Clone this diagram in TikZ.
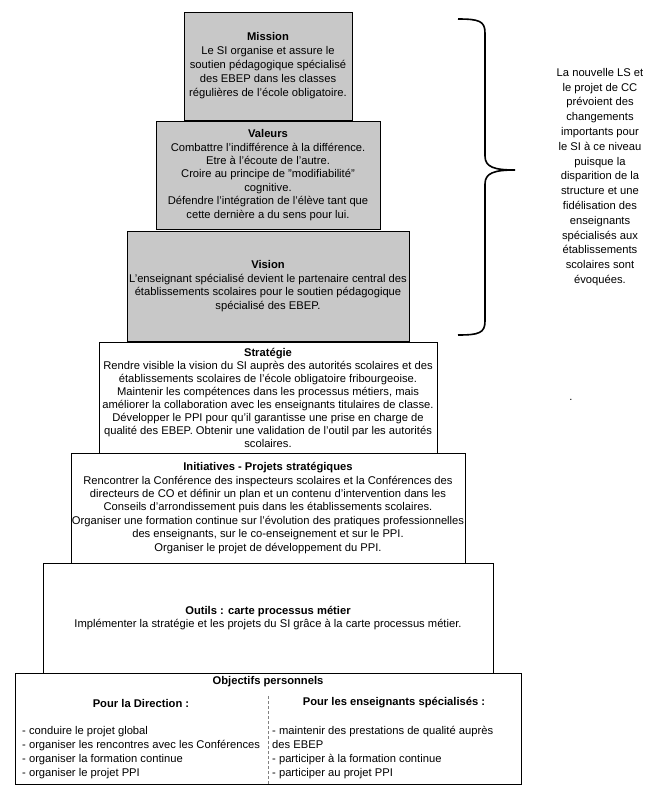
\documentclass[tikz,border=0pt]{standalone}
\usepackage{fontspec}
\setmainfont{Liberation Sans}
\usepackage{xcolor}
\usepackage{tikz}
\usetikzlibrary{positioning,calc}
\definecolor{levelgrey}{RGB}{200,200,200}

\begin{document}
\begin{tikzpicture}[x=1pt, y=-1pt,
	level/.style={draw, line width=0.8pt, align=center, inner sep=0pt, font=\fontsize{11.2}{13.4}\selectfont},
	greylevel/.style={level, fill=levelgrey},
	plain/.style={inner sep=0pt, font=\fontsize{11.2}{14}\selectfont}]
	\useasboundingbox (0,0) rectangle (662,807);
	% pyramide
	\node[greylevel, minimum width=168pt, minimum height=108pt, font=\fontsize{11.2}{14}\selectfont] (mission) at (268,66) {\textbf{Mission}\\Le SI organise et assure le\\soutien pédagogique spécialisé\\des EBEP dans les classes\\régulières de l'école obligatoire.};
	\node[greylevel, minimum width=224pt, minimum height=108pt] (valeurs) at (268,175) {\textbf{Valeurs}\\Combattre l'indifférence à la différence.\\Etre à l'écoute de l'autre.\\Croire au principe de "modifiabilité"\\cognitive.\\Défendre l'intégration de l'élève tant que\\cette dernière a du sens pour lui.};
	\node[greylevel, minimum width=282pt, minimum height=110pt] (vision) at (268,286) {\textbf{Vision}\\L'enseignant spécialisé devient le partenaire central des\\établissements scolaires pour le soutien pédagogique\\spécialisé des EBEP.};
	\node[level, minimum width=338pt, minimum height=111pt, font=\fontsize{11.2}{13}\selectfont] (strategie) at (268,397.5) {\textbf{Stratégie}\\Rendre visible la vision du SI auprès des autorités scolaires et des\\établissements scolaires de l'école obligatoire fribourgeoise.\\Maintenir les compétences dans les processus métiers, mais\\améliorer la collaboration avec les enseignants titulaires de classe.\\Développer le PPI pour qu'il garantisse une prise en charge de\\qualité des EBEP. Obtenir une validation de l'outil par les autorités\\scolaires.};
	\node[level, minimum width=394pt, minimum height=110pt] (initiatives) at (268,508) {\textbf{Initiatives - Projets stratégiques}\\Rencontrer la Conférence des inspecteurs scolaires et la Conférences des\\directeurs de CO et définir un plan et un contenu d'intervention dans les\\Conseils d'arrondissement puis dans les établissements scolaires.\\Organiser une formation continue sur l'évolution des pratiques professionnelles\\des enseignants, sur le co-enseignement et sur le PPI.\\Organiser le projet de développement du PPI.};
	\node[level, minimum width=450pt, minimum height=110pt] (outils) at (268,618) {\textbf{Outils : carte processus métier}\\Implémenter la stratégie et les projets du SI grâce à la carte processus métier.};
	\node[level, minimum width=506pt, minimum height=111pt] (objectifs) at (268,728.5) {};
	% objectifs personnels
	\node[plain] (objtitle) at (268,682) {\textbf{Objectifs personnels}};
	\node[plain] (dirhead) at (141,703) {\textbf{Pour la Direction :}};
	\node[plain] (enshead) at (394,703) {\textbf{Pour les enseignants spécialisés :}};
	\node[plain, anchor=north west, align=left] (dirlist) at (22,726) {- conduire le projet global\\- organiser les rencontres avec les Conférences\\- organiser la formation continue\\- organiser le projet PPI};
	\node[plain, anchor=north west, align=left] (enslist) at (272,726) {- maintenir des prestations de qualité auprès\\des EBEP\\- participer à la formation continue\\- participer au projet PPI};
	\coordinate (divtop) at (268,696);
	\draw[gray, dashed, line width=0.8pt, dash pattern=on 3pt off 2pt] (divtop) -- (divtop |- objectifs.south);
	% accolade
	\draw[line width=1.6pt] (458,19) .. controls (479,19) and (485,21) .. (485,33) -- (485,156) .. controls (485,167) and (494,170) .. (515,170) .. controls (494,170) and (485,173) .. (485,184) -- (485,321) .. controls (485,333) and (479,335) .. (458,335);
	\node[inner sep=0pt, align=center, font=\fontsize{11.2}{14.8}\selectfont] (remarque) at (600,177) {La nouvelle LS et\\le projet de CC\\prévoient des\\changements\\importants pour\\le SI à ce niveau\\puisque la\\disparition de la\\structure et une\\fidélisation des\\enseignants\\spécialisés aux\\établissements\\scolaires sont\\évoquées.};
	\node[inner sep=0pt, font=\fontsize{11.2}{14}\selectfont] (point) at (571,400) {.};
\end{tikzpicture}
\end{document}
